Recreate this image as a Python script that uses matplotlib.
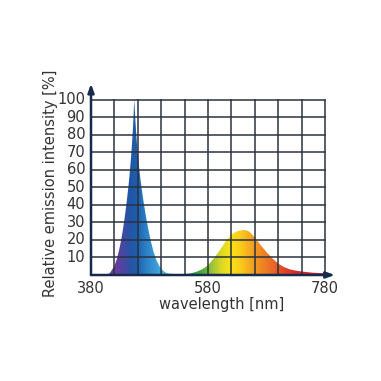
import numpy as np
import matplotlib
matplotlib.use("Agg")
import matplotlib.pyplot as plt
from matplotlib.colors import LinearSegmentedColormap, to_rgb
from matplotlib.patches import Polygon

# ---- data ----
wavelength = [380, 405, 408, 412, 416, 420, 424, 428, 432, 435, 438, 441, 444, 446, 448,
              450, 452, 454, 456, 458, 460, 462, 464, 467, 470, 474, 478, 482, 487, 492,
              498, 504, 510, 520, 530, 540, 550, 560, 570, 580, 590, 600, 610, 620, 630,
              640, 645, 650, 660, 670, 680, 690, 700, 710, 720, 730, 740, 750, 760, 770, 780]
intensity = [0, 0, 0.3, 1, 3, 5.2, 8.9, 14.1, 20.7, 26.8, 33.8, 41.6, 50.5, 57.3, 65,
             74.2, 85.4, 100, 87.3, 77.2, 69, 62, 56, 48.2, 41.4, 33.2, 26, 19.7, 13.1, 8.3,
             4.5, 2.2, 1.0, 0.5, 0.4, 0.5, 0.9, 1.8, 3.2, 5.5, 9.5, 14, 19, 23, 25,
             25.6, 25.5, 24.8, 21.5, 17, 13, 9.5, 6.5, 4.5, 3.2, 2.5, 2, 1.6, 1.3, 1.1, 1.0]
y_ticks = [10, 20, 30, 40, 50, 60, 70, 80, 90, 100]
x_ticks = [380, 580, 780]
x_grid = [420, 460, 500, 540, 580, 620, 660, 700, 740, 780]

# colour stops by wavelength
stop_nm = [380, 420, 435, 445, 458, 472, 490, 510, 532, 552, 570, 586, 602, 618, 635,
           652, 670, 690, 710, 730, 780]
stop_col = ["#4a48a6", "#4a48a6", "#2c52a6", "#1f56a6", "#1e5eab", "#2a7ec4", "#3a9cd8",
            "#5cbad8", "#3fae86", "#2e9a46", "#4aa83a", "#9cc438", "#dcd826", "#f9e415",
            "#f8cc1a", "#f4a820", "#ef8822", "#e86826", "#e04428", "#d6282c", "#c41c30"]
purple = "#6a3c9c"

fig = plt.figure(figsize=(3.81, 3.81), dpi=100)
W = 381.0
x0_px, x1_px = 91.0, 325.0   # 380 .. 780
y0_px, y1_px = 275.0, 99.5   # 0 .. 100
xmax, ymax = 800, 110
ax_w = (x1_px - x0_px) * (xmax - 380) / 400.0
ax_h = (y0_px - y1_px) * ymax / 100.0
ax = fig.add_axes([x0_px / W, (W - y0_px) / W, ax_w / W, ax_h / W])
ax.set_xlim(380, xmax)
ax.set_ylim(0, ymax)
for s in ax.spines.values():
    s.set_visible(False)
ax.set_xticks([])
ax.set_yticks([])
ax.patch.set_alpha(0)

# gradient fill clipped to the spectrum
pos = [(n - 380) / 400.0 for n in stop_nm]
cmap = LinearSegmentedColormap.from_list("spec", list(zip(pos, stop_col)))
nx, ny = 800, 200
gx = np.linspace(380, 780, nx)
gy = np.linspace(0, 100, ny)
base = cmap((gx - 380) / 400.0)[:, :3]
img = np.repeat(base[None, :, :], ny, axis=0)
fx = np.clip((452 - gx) / 30.0, 0, 1)[None, :]
fy = np.clip(1 - gy / 45.0, 0, 1)[:, None]
f = (fx * fy)[:, :, None]
img = img * (1 - f) + np.array(to_rgb(purple))[None, None, :] * f
im = ax.imshow(img, extent=[380, 780, 0, 100], aspect="auto",
               origin="lower", zorder=1, interpolation="bilinear")
verts = list(zip(wavelength, intensity)) + [(780, 0), (380, 0)]
poly = Polygon(verts, closed=True, facecolor="none", edgecolor="none")
ax.add_patch(poly)
im.set_clip_path(poly)

# grid
gc = "#2b3140"
for xv in x_grid:
    ax.plot([xv, xv], [0, 100], color=gc, lw=1.1, zorder=3)
for yv in y_ticks:
    ax.plot([380, 780], [yv, yv], color=gc, lw=1.1, zorder=3)

# axes with arrows
ac = "#162a4c"
ax.annotate("", xy=(380, 109), xytext=(380, 0),
            arrowprops=dict(arrowstyle="-|>,head_length=0.5,head_width=0.18", color=ac, lw=1.8,
                            shrinkA=0, shrinkB=0), zorder=5)
ax.annotate("", xy=(797, 0), xytext=(380, 0),
            arrowprops=dict(arrowstyle="-|>,head_length=0.5,head_width=0.18", color=ac, lw=1.8,
                            shrinkA=0, shrinkB=0), zorder=5)

tc = "#333333"
fs = 10.5
for yv in y_ticks:
    ax.text(380 - 10, yv, str(yv), ha="right", va="center", fontsize=fs, color=tc,
            family="DejaVu Sans")
for xv in x_ticks:
    ax.text(xv, -3.5, str(xv), ha="center", va="top", fontsize=fs, color=tc,
            family="DejaVu Sans")

fig.text(222 / W, 1 - 304 / W, "wavelength [nm]", ha="center", va="center",
         fontsize=fs, color=tc, family="DejaVu Sans")
fig.text(51 / W, 1 - 183 / W, "Relative emission intensity [%]", ha="center", va="center",
         rotation=90, fontsize=fs, color=tc, family="DejaVu Sans")

fig.savefig("out.png", dpi=100, facecolor="white")
